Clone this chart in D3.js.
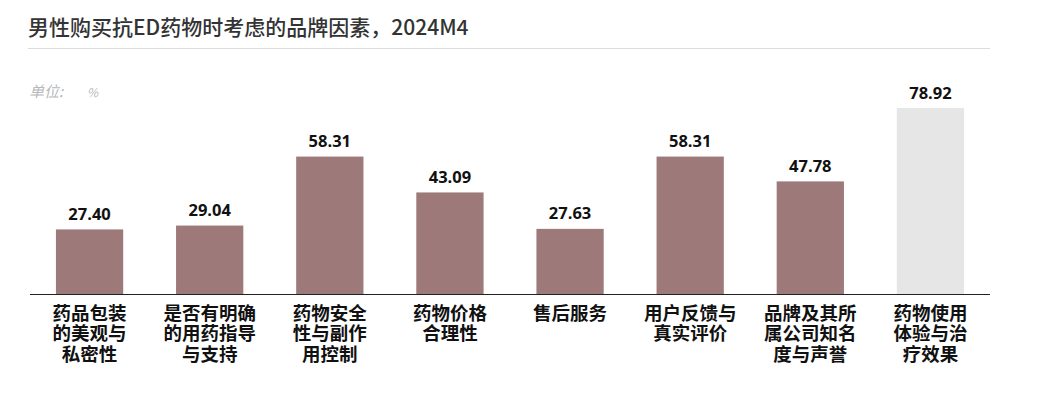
<!DOCTYPE html>
<html>
<head>
<meta charset="utf-8">
<script src="https://cdn.jsdelivr.net/npm/d3@7"></script>
<style>
  body { margin: 0; background: #fff; }
  svg { display: block; }
</style>
</head>
<body>
<svg id="chart"></svg>
<script>
// data
const categories = ["药品包装的美观与私密性", "是否有明确的用药指导与支持", "药物安全性与副作用控制", "药物价格合理性",
  "售后服务", "用户反馈与真实评价", "品牌及其所属公司知名度与声誉", "药物使用体验与治疗效果"];
const labelLines = [
  ["药品包装", "的美观与", "私密性"],
  ["是否有明确", "的用药指导", "与支持"],
  ["药物安全", "性与副作", "用控制"],
  ["药物价格", "合理性"],
  ["售后服务"],
  ["用户反馈与", "真实评价"],
  ["品牌及其所", "属公司知名", "度与声誉"],
  ["药物使用", "体验与治", "疗效果"]
];
const values = [27.40, 29.04, 58.31, 43.09, 27.63, 58.31, 47.78, 78.92];
const highlighted = [false, false, false, false, false, false, false, true];

const width = 1040, height = 394;
const baseY = 294;

const svg = d3.select('#chart')
    .attr('width', width)
    .attr('height', height);

const font = "'Noto Sans CJK SC', 'Noto Sans', sans-serif";

// title
svg.append('text')
    .attr('x', 28)
    .attr('y', 35)
    .attr('font-family', font)
    .attr('font-size', 21)
    .attr('font-weight', 500)
    .attr('fill', '#333')
    .text('男性购买抗ED药物时考虑的品牌因素，2024M4');

svg.append('line')
    .attr('x1', 28).attr('x2', 990)
    .attr('y1', 48.5).attr('y2', 48.5)
    .attr('stroke', '#dcdcdc')
    .attr('stroke-width', 1);

// unit
svg.append('text')
    .attr('x', 29)
    .attr('y', 97)
    .attr('font-family', font)
    .attr('font-size', 15)
    .attr('font-style', 'italic')
    .attr('fill', '#b8b8b8')
    .text('单位:');
svg.append('text')
    .attr('x', 87)
    .attr('y', 97)
    .attr('font-family', font)
    .attr('font-size', 12)
    .attr('font-style', 'italic')
    .attr('fill', '#b8b8b8')
    .text('%');

// scales
const x = d3.scaleBand()
    .domain(categories)
    .range([29.5, 990.5])
    .paddingInner(0.44)
    .paddingOuter(0.22);

const y = d3.scaleLinear()
    .domain([0, 78.92])
    .range([baseY, 108]);

// bars
svg.selectAll('.bar')
    .data(values)
    .enter()
    .append('rect')
    .attr('class', 'bar')
    .attr('x', (d, i) => x(categories[i]))
    .attr('y', d => y(d))
    .attr('width', x.bandwidth())
    .attr('height', d => baseY - y(d))
    .attr('fill', (d, i) => highlighted[i] ? '#e6e6e6' : '#9d7979');

// value labels
svg.selectAll('.val')
    .data(values)
    .enter()
    .append('text')
    .attr('class', 'val')
    .attr('x', (d, i) => x(categories[i]) + x.bandwidth() / 2)
    .attr('y', d => y(d) - 9.5)
    .attr('text-anchor', 'middle')
    .attr('font-family', "'Open Sans', 'Noto Sans', sans-serif")
    .attr('font-size', 16.5)
    .attr('font-weight', 700)
    .attr('fill', '#111')
    .text(d => d.toFixed(2));

// x axis line
svg.append('line')
    .attr('x1', 30).attr('x2', 990)
    .attr('y1', baseY + 0.5).attr('y2', baseY + 0.5)
    .attr('stroke', '#222')
    .attr('stroke-width', 1.2);

// category labels
const lab = svg.selectAll('.cat')
    .data(labelLines)
    .enter()
    .append('text')
    .attr('class', 'cat')
    .attr('text-anchor', 'middle')
    .attr('font-family', font)
    .attr('font-size', 18.5)
    .attr('font-weight', 700)
    .attr('fill', '#111');

lab.selectAll('tspan')
    .data((d, i) => d.map(t => ({t, i})))
    .enter()
    .append('tspan')
    .attr('x', d => x(categories[d.i]) + x.bandwidth() / 2)
    .attr('y', (d, j) => 319.5 + j * 20.5)
    .text(d => d.t);
</script>
</body>
</html>
